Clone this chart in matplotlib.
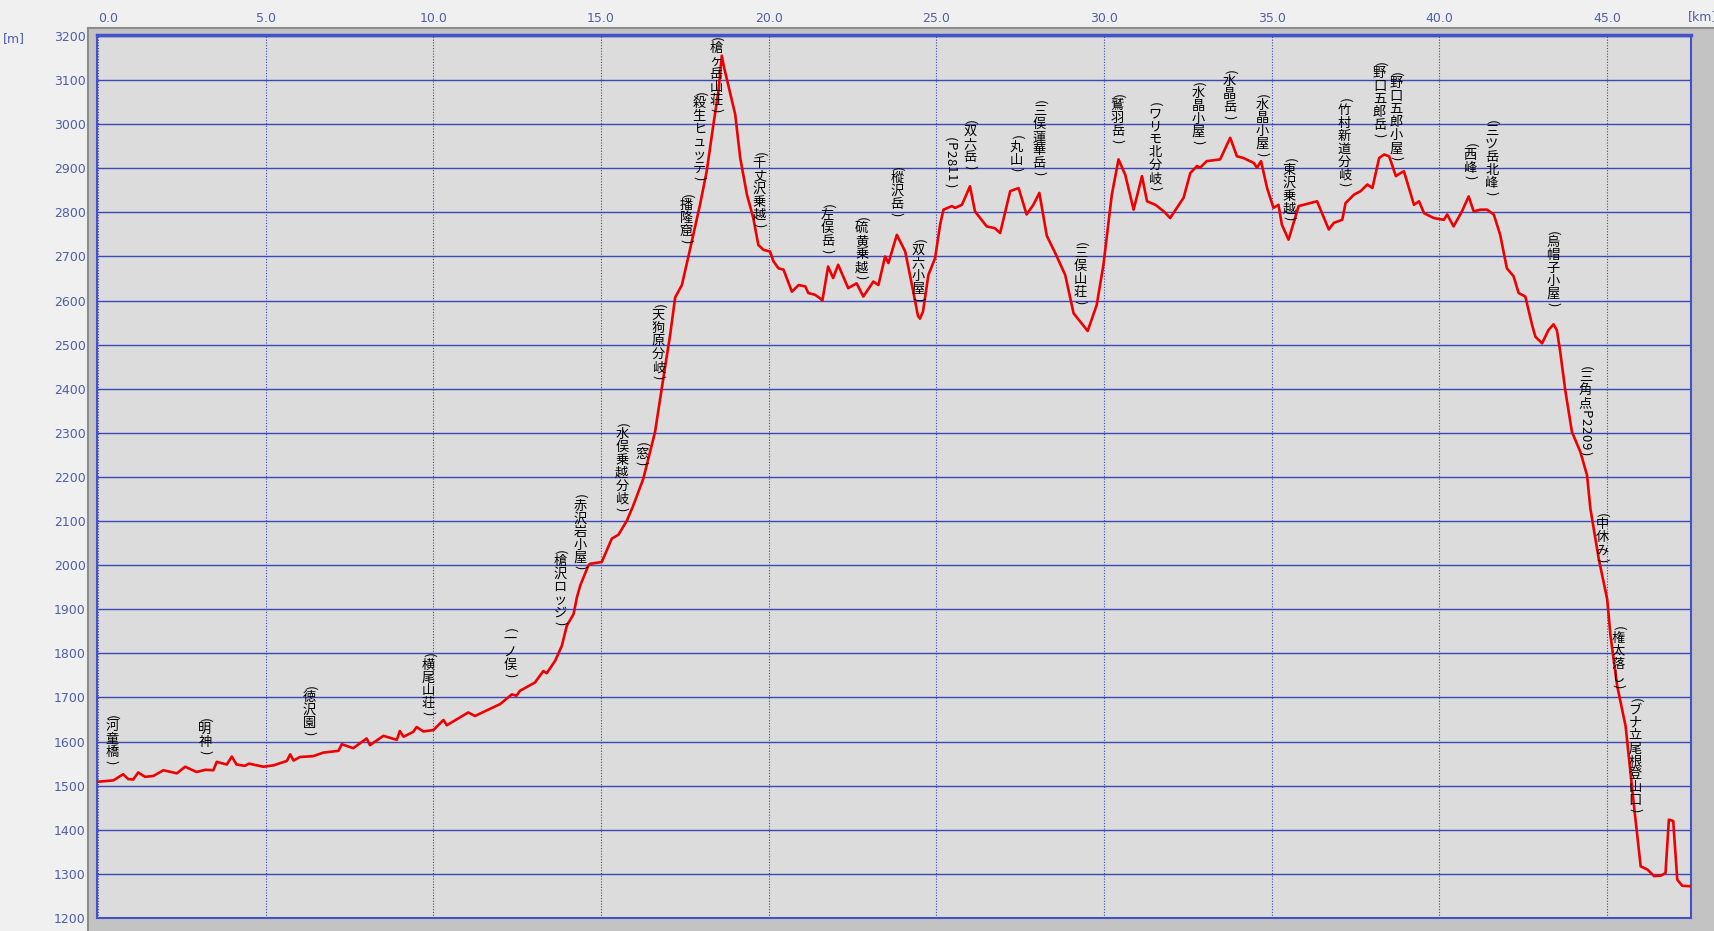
import matplotlib
matplotlib.use("Agg")
import matplotlib.pyplot as plt
from matplotlib.patches import Rectangle
from matplotlib.lines import Line2D

# elevation profile: distance [km], elevation [m]
dist_km = [
    0.0, 0.46, 0.75, 0.9, 1.05, 1.2, 1.4, 1.65, 1.95, 2.35, 2.6, 2.94, 3.2, 3.44,
    3.54, 3.84, 3.99, 4.13, 4.38, 4.5, 4.93, 5.23, 5.63, 5.73, 5.83, 6.02, 6.42,
    6.72, 7.17, 7.27, 7.61, 8.01, 8.11, 8.51, 8.91, 9.0, 9.11, 9.4, 9.5, 9.7,
    10.0, 10.3, 10.4, 11.04, 11.24, 11.99, 12.34, 12.48, 12.58, 13.03, 13.28,
    13.38, 13.63, 13.83, 13.98, 14.18, 14.28, 14.38, 14.62, 14.67, 15.02, 15.32,
    15.52, 15.77, 15.96, 16.26, 16.61, 16.81, 17.06, 17.21, 17.41, 17.65, 17.95,
    18.15, 18.35, 18.5, 18.6, 18.67, 18.8, 19.0, 19.15, 19.35, 19.54, 19.69,
    19.84, 20.04, 20.14, 20.29, 20.44, 20.69, 20.89, 21.09, 21.18, 21.38, 21.53,
    21.6, 21.77, 21.92, 22.07, 22.37, 22.62, 22.82, 23.12, 23.27, 23.47, 23.57,
    23.82, 24.07, 24.31, 24.45, 24.51, 24.6, 24.76, 24.96, 25.11, 25.21, 25.46,
    25.56, 25.76, 26.0, 26.15, 26.5, 26.74, 26.9, 27.2, 27.45, 27.69, 27.89,
    28.07, 28.29, 28.54, 28.84, 29.09, 29.29, 29.51, 29.78, 29.98, 30.23, 30.43,
    30.63, 30.88, 31.13, 31.28, 31.53, 31.78, 31.97, 32.17, 32.37, 32.57, 32.77,
    32.86, 33.06, 33.46, 33.76, 33.96, 34.16, 34.46, 34.56, 34.68, 34.86, 35.05,
    35.2, 35.3, 35.5, 35.65, 35.8, 36.15, 36.35, 36.7, 36.85, 37.1, 37.2, 37.45,
    37.65, 37.85, 38.0, 38.2, 38.35, 38.5, 38.7, 38.84, 38.94, 39.09, 39.24,
    39.39, 39.54, 39.83, 40.13, 40.23, 40.42, 40.67, 40.87, 41.02, 41.22, 41.42,
    41.62, 41.81, 42.01, 42.21, 42.36, 42.56, 42.76, 42.86, 43.06, 43.25, 43.4,
    43.5, 43.6, 43.75, 43.95, 44.2, 44.4, 44.5, 44.75, 45.0, 45.1, 45.3, 45.55,
    45.8, 46.0, 46.2, 46.4, 46.6, 46.74, 46.84, 46.97, 47.09, 47.24, 47.5,
]
elev_m = [
    1509, 1512, 1526, 1515, 1514, 1530, 1520, 1522, 1535, 1528, 1543, 1531, 1536, 1535,
    1554, 1548, 1566, 1548, 1545, 1550, 1543, 1546, 1556, 1571, 1557, 1565, 1567,
    1575, 1579, 1594, 1585, 1607, 1592, 1613, 1604, 1624, 1611, 1622, 1633, 1623,
    1626, 1649, 1637, 1666, 1658, 1685, 1707, 1704, 1715, 1734, 1760,
    1755, 1783, 1817, 1863, 1889, 1927, 1954, 1999, 2003, 2007, 2060,
    2069, 2101, 2135, 2196, 2302, 2401, 2522, 2607, 2635, 2715, 2817,
    2893, 2999, 3075, 3155, 3128, 3086, 3022, 2923, 2840, 2787, 2726,
    2715, 2711, 2689, 2673, 2670, 2620, 2635, 2632, 2617, 2613, 2605,
    2600, 2677, 2651, 2681, 2628, 2639, 2609, 2643, 2635, 2700, 2685,
    2749, 2711, 2620, 2565, 2559, 2575, 2658, 2696, 2772, 2806, 2814,
    2810, 2817, 2859, 2802, 2768, 2764, 2753, 2848, 2855, 2795, 2817,
    2844, 2747, 2708, 2658, 2571, 2552, 2531, 2590, 2681, 2840, 2920,
    2885, 2806, 2882, 2825, 2817, 2802, 2787, 2810, 2833, 2889, 2905,
    2901, 2916, 2920, 2969, 2927, 2923, 2912, 2901, 2916, 2855, 2810,
    2817, 2772, 2738, 2776, 2814, 2821, 2825, 2761, 2776, 2783, 2821, 2840,
    2848, 2863, 2855, 2923, 2931, 2927, 2882, 2889, 2893, 2855, 2817,
    2825, 2798, 2787, 2783, 2795, 2768, 2802, 2836, 2802, 2806, 2806,
    2795, 2749, 2673, 2655, 2617, 2609, 2545, 2518, 2503, 2533, 2546,
    2533, 2484, 2397, 2302, 2257, 2204, 2128, 2014, 1923, 1840, 1726, 1635,
    1454, 1317, 1310, 1295, 1296, 1302, 1423, 1420, 1287, 1273, 1272,
]

# waypoints: name, distance [km], label top [m]
wp_names = [
    "河童橋", "明神", "徳沢園", "横尾山荘", "一ノ俣", "槍沢ロッジ", "赤沢岩小屋",
    "水俣乗越分岐", "窓", "天狗原分岐", "播隆窟", "殺生ヒュッテ", "槍ヶ岳山荘",
    "千丈沢乗越", "左俣岳", "硫黄乗越", "樅沢岳", "双六小屋", "P2811", "双六岳",
    "丸山", "三俣蓮華岳", "三俣山荘", "鷲羽岳", "ワリモ北分岐", "水晶小屋",
    "水晶岳", "水晶小屋", "東沢乗越", "竹村新道分岐", "野口五郎岳", "野口五郎小屋",
    "西峰", "三ツ岳北峰", "烏帽子小屋", "三角点P2209", "中休み", "権太落し",
    "ブナ立尾根登山口",
]
wp_km = [
    0.41, 3.19, 6.31, 9.85, 12.29, 13.78, 14.37, 15.62, 16.21, 16.71, 17.54,
    17.93, 18.43, 19.72, 21.75, 22.77, 23.82, 24.46, 25.41, 26.0, 27.38, 28.07,
    29.29, 30.4, 31.52, 32.8, 33.74, 34.71, 35.53, 37.16, 38.21, 38.71, 40.92,
    41.56, 43.39, 44.35, 44.85, 45.34, 45.84,
]
wp_top = [
    1662, 1655, 1728, 1802, 1859, 2037, 2162, 2325, 2280, 2594, 2844, 3075, 3200,
    2939, 2821, 2791, 2905, 2742, 2973, 3011, 2976, 3056, 2734, 3071, 3052, 3098,
    3124, 3071, 2924, 3060, 3143, 3120, 2958, 3011, 2760, 2454, 2120, 1863, 1700,
]

x_ticks = [0, 5, 10, 15, 20, 25, 30, 35, 40, 45]
y_ticks = list(range(1200, 3300, 100))

W, H = 1715, 931
BLUE = "#3a48b8"
TICK_COL = "#4f5ea8"
JP = ["Noto Sans CJK JP", "DejaVu Sans"]


def px(x, y):
    """pixel (from top-left) -> figure fraction"""
    return x / W, 1 - y / H


def draw_vlabel(ax, x, ytop, name):
    """vertical label, characters stacked, brackets and latin turned sideways"""
    off = 0.0
    for ch in "(" + name + ")":
        if ch in "()":
            adv, rot = 6, -90
        elif ord(ch) < 128:
            adv, rot = 8, -90
        else:
            adv, rot = 13, 0
        ax.annotate(ch, xy=(x, ytop), xytext=(0, -(off + adv / 2) * 0.72),
                    textcoords="offset points", ha="center", va="center",
                    rotation=rot, fontsize=9.5, family=JP, color="black",
                    zorder=5)
        off += adv


fig = plt.figure(figsize=(W / 100, H / 100), dpi=100, facecolor="#f0f0f0")

# grey frame round the plot
x0, y0 = px(88, 931)
x1, y1 = px(1715, 28)
fig.patches.append(Rectangle((x0, y0), x1 - x0, y1 - y0, transform=fig.transFigure,
                             facecolor="#c3c3c3", edgecolor="none", zorder=-5))
fig.lines.append(Line2D([x0, x1], [y1, y1], transform=fig.transFigure,
                        color="#8c8c8c", lw=1.5, zorder=-4))
fig.lines.append(Line2D([x0, x0], [y0, y1], transform=fig.transFigure,
                        color="#8c8c8c", lw=1.5, zorder=-4))

left, top = px(97, 35)
right, bottom = px(1691, 918)
ax = fig.add_axes([left, bottom, right - left, top - bottom])
ax.set_facecolor("#dcdcdc")

ax.plot(dist_km, elev_m, color="#ee0000", lw=1.9, zorder=4)

ax.set_xlim(-0.03, 47.5)
ax.set_ylim(1200, 3202)

ax.xaxis.tick_top()
ax.set_xticks(x_ticks)
ax.set_xticklabels([f"{v:.1f}" for v in x_ticks])
ax.set_yticks(y_ticks)
ax.set_yticklabels([str(v) for v in y_ticks])
ax.tick_params(axis="x", length=0, pad=7, labelsize=9, labelcolor=TICK_COL)
ax.tick_params(axis="y", length=0, pad=8, labelsize=9, labelcolor=TICK_COL)
ax.get_xticklabels()[0].set_ha("left")

ax.set_axisbelow(True)
ax.yaxis.grid(True, color=BLUE, lw=1.0, ls="-")
ax.xaxis.grid(True, color=BLUE, lw=0.8, ls=(0, (1, 1.5)))

for s in ax.spines.values():
    s.set_color("#4452c8")
    s.set_linewidth(1.5)
ax.spines["top"].set_linewidth(2.5)

for name, k, t in zip(wp_names, wp_km, wp_top):
    draw_vlabel(ax, k, t, name)

fx, fy = px(14, 39)
fig.text(fx, fy, "[m]", ha="center", va="center", fontsize=9, color=TICK_COL)
fx, fy = px(1688, 17)
fig.text(fx, fy, "[km]", ha="left", va="center", fontsize=9, color=TICK_COL)

fig.savefig("out.png", dpi=100, facecolor=fig.get_facecolor())
